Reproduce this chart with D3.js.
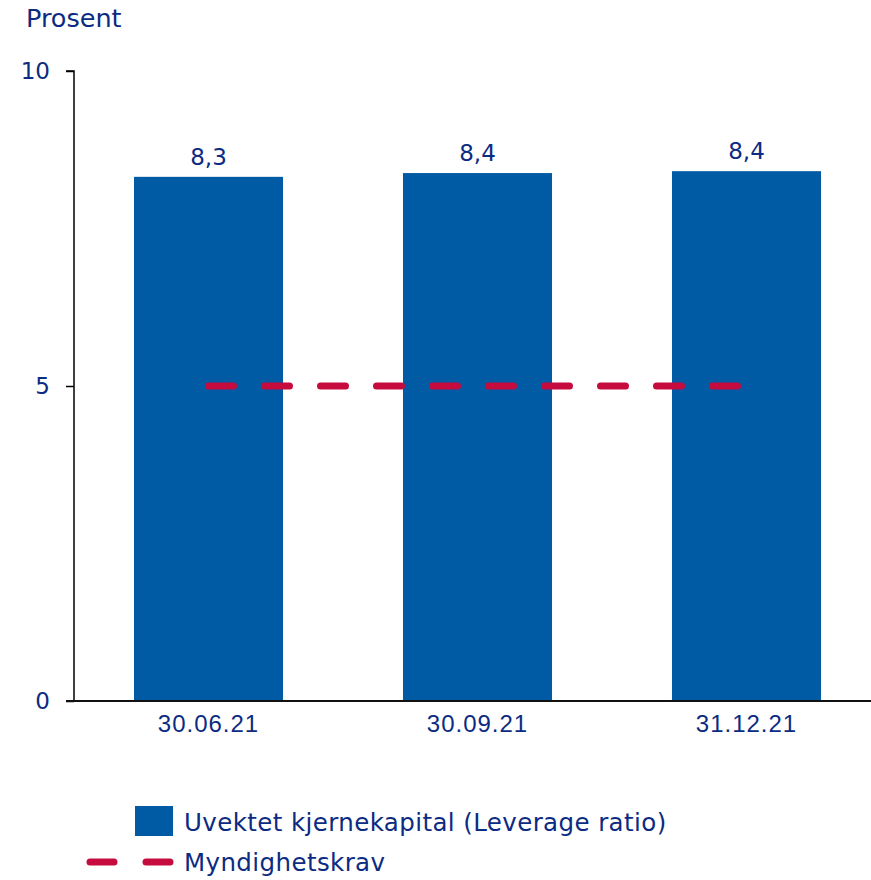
<!DOCTYPE html>
<html>
<head>
<meta charset="utf-8">
<script src="https://cdn.jsdelivr.net/npm/d3@7"></script>
<style>
  body { margin: 0; background: #fff; }
  svg text { fill: #0c2b82; font-family: "DejaVu Sans", sans-serif; }
</style>
</head>
<body>
<div id="chart"></div>
<script>
const categories = ["30.06.21", "30.09.21", "31.12.21"];
const leverageValues = [8.32, 8.38, 8.41];
const requirementValue = 5;
const yTicks = [0, 5, 10];
const seriesNames = ["Uvektet kjernekapital (Leverage ratio)", "Myndighetskrav"];

const barColor = "#005ba4";
const lineColor = "#c60c3e";

function drawChart() {
    const width = 871, height = 880;

    let svg = d3.select("#chart").append("svg")
        .attr("width", width)
        .attr("height", height);

    let x = d3.scaleBand()
        .domain(categories)
        .range([74, 881])
        .paddingInner(0.446)
        .paddingOuter(0.223);

    let y = d3.scaleLinear()
        .domain([0, 10])
        .range([701, 71]);

    // unit label
    svg.append("text")
        .attr("x", 26)
        .attr("y", 27)
        .style("font-size", "25.5px")
        .text("Prosent");

    // bars
    svg.selectAll(".bar")
        .data(leverageValues)
        .enter().append("rect")
        .attr("class", "bar")
        .attr("x", (d, i) => x(categories[i]))
        .attr("y", d => y(d))
        .attr("width", x.bandwidth())
        .attr("height", d => y(0) - y(d))
        .attr("fill", barColor);

    // value labels
    svg.selectAll(".val")
        .data(leverageValues)
        .enter().append("text")
        .attr("class", "val")
        .attr("x", (d, i) => x(categories[i]) + x.bandwidth() / 2)
        .attr("y", d => y(d) - 12)
        .attr("text-anchor", "middle")
        .style("font-size", "23px")
        .text(d => d3.format(".1f")(d).replace(".", ","));

    // requirement line across the bar centres
    let line = d3.line()
        .x(d => x(d) + x.bandwidth() / 2)
        .y(() => y(requirementValue));

    svg.append("path")
        .datum(categories)
        .attr("d", line)
        .attr("fill", "none")
        .attr("stroke", lineColor)
        .attr("stroke-width", 7)
        .attr("stroke-linecap", "round")
        .attr("stroke-dasharray", "25 31");

    // y axis
    let yAxis = svg.append("g")
        .attr("transform", "translate(74,0)")
        .call(d3.axisLeft(y).tickValues(yTicks).tickSize(8).tickPadding(16));
    yAxis.select(".domain").attr("stroke", "#000").attr("stroke-width", 1.5)
        .attr("d", "M-8,71H0V701");
    yAxis.selectAll(".tick line").attr("stroke", "#000").attr("stroke-width", 1.5);
    yAxis.selectAll("text")
        .style("font-size", "23px")
        .style("font-family", "'DejaVu Sans', sans-serif")
        .attr("fill", "#0c2b82");

    // x axis
    let xAxis = svg.append("g")
        .attr("transform", "translate(0,701)")
        .call(d3.axisBottom(x).tickSize(0).tickPadding(14));
    xAxis.select(".domain").attr("stroke", "#111").attr("stroke-width", 2)
        .attr("d", "M66,0H871");
    xAxis.selectAll("text")
        .style("font-size", "24px")
        .style("letter-spacing", "1px")
        .style("font-family", "'Liberation Sans', sans-serif")
        .attr("fill", "#0c2b82");

    // legend
    let legend = svg.append("g");
    legend.append("rect")
        .attr("x", 135).attr("y", 806)
        .attr("width", 38).attr("height", 30)
        .attr("fill", barColor);
    legend.append("text")
        .attr("x", 184).attr("y", 822)
        .attr("dy", "0.35em")
        .style("font-size", "24.5px")
        .style("letter-spacing", "0.4px")
        .text(seriesNames[0]);
    legend.append("line")
        .attr("x1", 90).attr("x2", 170)
        .attr("y1", 862).attr("y2", 862)
        .attr("stroke", lineColor)
        .attr("stroke-width", 7)
        .attr("stroke-linecap", "round")
        .attr("stroke-dasharray", "24 32");
    legend.append("text")
        .attr("x", 184).attr("y", 862)
        .attr("dy", "0.35em")
        .style("font-size", "24.5px")
        .style("letter-spacing", "0.4px")
        .text(seriesNames[1]);
}

drawChart();
</script>
</body>
</html>
